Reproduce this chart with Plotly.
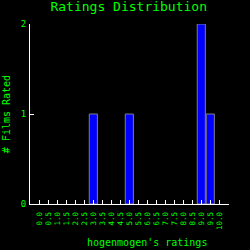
import plotly.graph_objects as go

tick_labels = ["0.0", "0.5", "1.0", "1.5", "2.0", "2.5", "3.0", "3.5", "4.0", "4.5",
               "5.0", "5.5", "6.0", "6.5", "7.0", "7.5", "8.0", "8.5", "9.0", "9.5", "10.0"]
tick_values = [0.0, 0.5, 1.0, 1.5, 2.0, 2.5, 3.0, 3.5, 4.0, 4.5,
               5.0, 5.5, 6.0, 6.5, 7.0, 7.5, 8.0, 8.5, 9.0, 9.5, 10.0]
ratings = [3.0, 5.0, 9.0, 9.5]
counts = [1, 1, 2, 1]

GREEN = "#00ff00"
FONT = "DejaVu Sans Mono"

fig = go.Figure(go.Bar(
    x=ratings, y=counts, width=0.45,
    marker=dict(color="#0000ff", line=dict(color="#808080", width=1)),
))

fig.update_layout(
    width=250, height=250,
    margin=dict(l=30, r=21, t=24, b=46),
    paper_bgcolor="black", plot_bgcolor="black",
    showlegend=False,
    font=dict(family=FONT, color=GREEN),
    title=dict(text="Ratings Distribution", x=0.515, xanchor="center", y=0.992, yanchor="top",
               font=dict(family=FONT, size=13, color=GREEN)),
    xaxis=dict(range=[-0.52, 10.54], tickvals=tick_values, ticktext=tick_labels,
               tickangle=-90, ticks="inside", ticklen=4, tickcolor="white",
               showline=True, linecolor="white", linewidth=1, showgrid=False, zeroline=False,
               ticklabelstandoff=4, automargin=False,
               tickfont=dict(family=FONT, size=7.5, color=GREEN)),
    yaxis=dict(range=[0, 2], tickvals=[0, 1, 2], ticks="inside", ticklen=4, tickcolor="white",
               showline=True, linecolor="white", linewidth=1, showgrid=False, zeroline=False,
               ticklabelstandoff=1, automargin=False,
               tickfont=dict(family=FONT, size=9, color=GREEN),
               title=dict(text="# Films Rated", font=dict(family=FONT, size=10, color=GREEN), standoff=8)),
    annotations=[dict(text="hogenmogen's ratings", xref="paper", yref="paper",
                      x=0.59, y=-0.215, xanchor="center", yanchor="middle", showarrow=False,
                      font=dict(family=FONT, size=10, color=GREEN))],
)

fig.write_html("out.html")
